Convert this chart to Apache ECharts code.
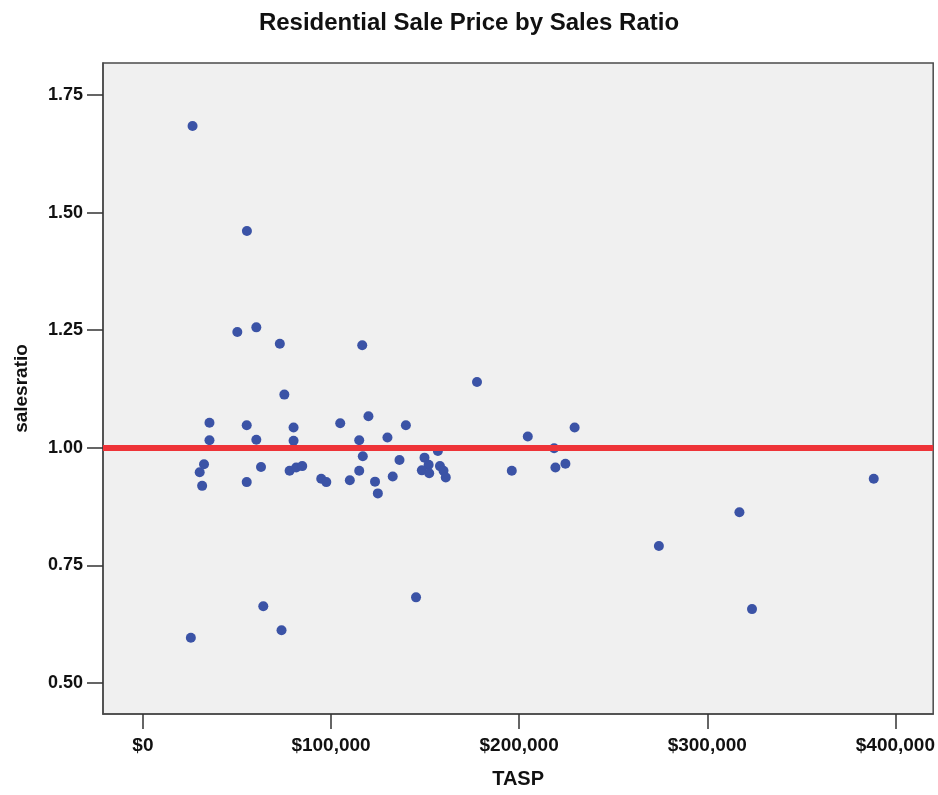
<!DOCTYPE html>
<html>
<head>
<meta charset="utf-8">
<script src="https://cdn.jsdelivr.net/npm/echarts@6/dist/echarts.min.js"></script>
<style>
  html, body { margin: 0; padding: 0; background: #ffffff; }
  #chart { width: 938px; height: 795px; }
</style>
</head>
<body>
<div id="chart"></div>
<script>
// Data
const tasp = [
  26400, 55300, 50200, 60300, 72800, 116600, 75200, 35400, 35400, 55200,
  60300, 80100, 80100, 104900, 119900, 115000, 130000, 139800, 116900, 136400,
  32500, 30200, 31500, 55200, 62800, 78000, 81500, 84700, 94800, 97500,
  110000, 115000, 123400, 124900, 132800, 25500, 64000, 73700, 145200, 177600,
  204600, 229500, 218600, 156800, 149700, 151900, 148300, 152200, 157900, 159800,
  161000, 196100, 219300, 224600, 274300, 388500, 317100, 323800
];
const salesratio = [
  1.684, 1.461, 1.246, 1.256, 1.221, 1.218, 1.113, 1.053, 1.016, 1.048,
  1.017, 1.043, 1.015, 1.052, 1.067, 1.016, 1.022, 1.048, 0.982, 0.974,
  0.965, 0.948, 0.919, 0.927, 0.959, 0.951, 0.958, 0.961, 0.934, 0.927,
  0.931, 0.951, 0.928, 0.903, 0.939, 0.596, 0.663, 0.612, 0.682, 1.140,
  1.024, 1.043, 0.999, 0.993, 0.979, 0.964, 0.952, 0.946, 0.961, 0.951,
  0.937, 0.951, 0.958, 0.966, 0.791, 0.934, 0.863, 0.657
];
const xTicks = [0, 100000, 200000, 300000, 400000];
const yTicks = [0.50, 0.75, 1.00, 1.25, 1.50, 1.75];
const referenceRatio = 1.00;

const points = tasp.map((v, i) => [v, salesratio[i]]);

const chart = echarts.init(document.getElementById('chart'));
const labelFont = 'Liberation Sans, Arial, sans-serif';

chart.setOption({
  backgroundColor: '#ffffff',
  animation: false,
  title: {
    text: 'Residential Sale Price by Sales Ratio',
    left: 'center',
    top: 6,
    textStyle: { fontFamily: labelFont, fontWeight: 'bold', fontSize: 24, color: '#111' }
  },
  grid: {
    left: 103, top: 63, right: 3, bottom: 81,
    show: true,
    backgroundColor: '#F0F0F0',
    borderColor: '#4a4a4a',
    borderWidth: 1.5
  },
  xAxis: {
    type: 'value',
    min: -21200,
    max: 420100,
    name: 'TASP',
    nameLocation: 'middle',
    nameGap: 55,
    nameTextStyle: { fontFamily: labelFont, fontWeight: 'bold', fontSize: 20, color: '#111' },
    axisLine: { show: true, onZero: false, lineStyle: { color: '#4a4a4a', width: 1.5 } },
    axisTick: { show: true, customValues: xTicks, length: 15, lineStyle: { color: '#333', width: 1.5 } },
    axisLabel: {
      customValues: xTicks,
      margin: 22,
      fontFamily: labelFont, fontWeight: 'bold', fontSize: 19, color: '#111',
      formatter: v => '$' + Math.round(v).toLocaleString('en-US')
    },
    splitLine: { show: false }
  },
  yAxis: {
    type: 'value',
    min: 0.434,
    max: 1.818,
    name: 'salesratio',
    nameLocation: 'middle',
    nameGap: 72,
    nameRotate: 90,
    nameTextStyle: { fontFamily: labelFont, fontWeight: 'bold', fontSize: 19, color: '#111' },
    axisLine: { show: true, onZero: false, lineStyle: { color: '#4a4a4a', width: 1.5 } },
    axisTick: { show: true, customValues: yTicks, length: 16, lineStyle: { color: '#333', width: 1.5 } },
    axisLabel: {
      customValues: yTicks,
      margin: 20,
      fontFamily: labelFont, fontWeight: 'bold', fontSize: 18, color: '#111',
      formatter: v => v.toFixed(2)
    },
    splitLine: { show: false }
  },
  series: [
    {
      type: 'scatter',
      data: points,
      symbol: 'circle',
      symbolSize: 10,
      itemStyle: { color: '#3B53A6', opacity: 1 },
      z: 2
    },
    {
      type: 'scatter',
      data: [],
      z: 5,
      markLine: {
        silent: true,
        symbol: ['none', 'none'],
        label: { show: false },
        lineStyle: { color: '#EE3338', width: 6, type: 'solid' },
        data: [{ yAxis: referenceRatio }]
      }
    }
  ]
});
</script>
</body>
</html>
